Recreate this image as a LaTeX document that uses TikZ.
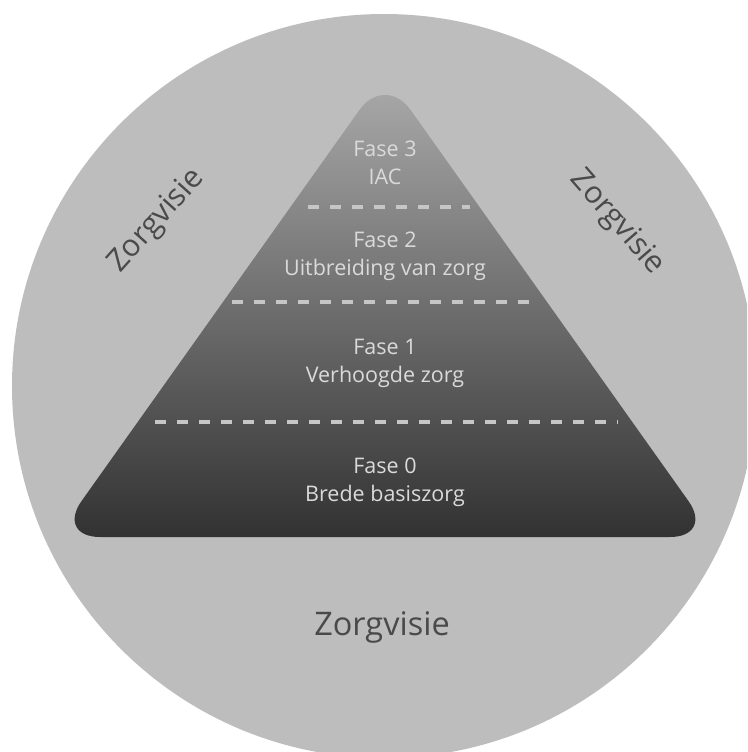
\documentclass[tikz,border=0pt]{standalone}
\usepackage{fontspec}
\setmainfont{Open Sans}
\definecolor{circlegray}{HTML}{BDBDBD}
\definecolor{labelgray}{HTML}{4A4A4A}
\definecolor{phasetext}{HTML}{DADADA}
\definecolor{dashgray}{HTML}{C6C6C6}
\definecolor{pyrtop}{HTML}{ABABAB}
\definecolor{pyrbot}{HTML}{323232}
\tikzset{
  phase/.style={align=center, text=phasetext, font=\fontsize{21.5}{28}\selectfont},
  vision/.style={text=labelgray, font=\fontsize{30.5}{36}\selectfont},
  sep/.style={draw=dashgray, line width=3.5pt, dash pattern=on 11pt off 11pt},
}
\begin{document}
\begin{tikzpicture}[x=1pt,y=-1pt]
\useasboundingbox (0,0) rectangle (747,752);
\fill[white] (0,0) rectangle (747,752);
\begin{scope}
\clip (0,0) rectangle (747,752);
\fill[circlegray] (384,386) circle (372);
\end{scope}
% pyramid
\shade[top color=pyrtop, bottom color=pyrbot, rounded corners=44pt]
  (385,74) -- (714,537) -- (56,537) -- cycle;
% separators
\draw[sep] (308,207) -- (470,207);
\draw[sep] (232,302) -- (535,302);
\draw[sep] (155,422) -- (618,422);
% phase labels
\node[phase] (f3) at (385,163) {Fase 3\\IAC};
\node[phase] (f2) at (385,256) {Fase 2\\Uitbreiding van zorg};
\node[phase] (f1) at (385,363) {Fase 1\\Verhoogde zorg};
\node[phase] (f0) at (385,482) {Fase 0\\Brede basiszorg};
% vision labels
\node[vision, rotate=48] (vl) at (157,221) {Zorgvisie};
\node[vision, rotate=-49] (vr) at (617,223) {Zorgvisie};
\node[vision, font=\fontsize{32.5}{38}\selectfont] (vb) at (382,627) {Zorgvisie};
\end{tikzpicture}
\end{document}
